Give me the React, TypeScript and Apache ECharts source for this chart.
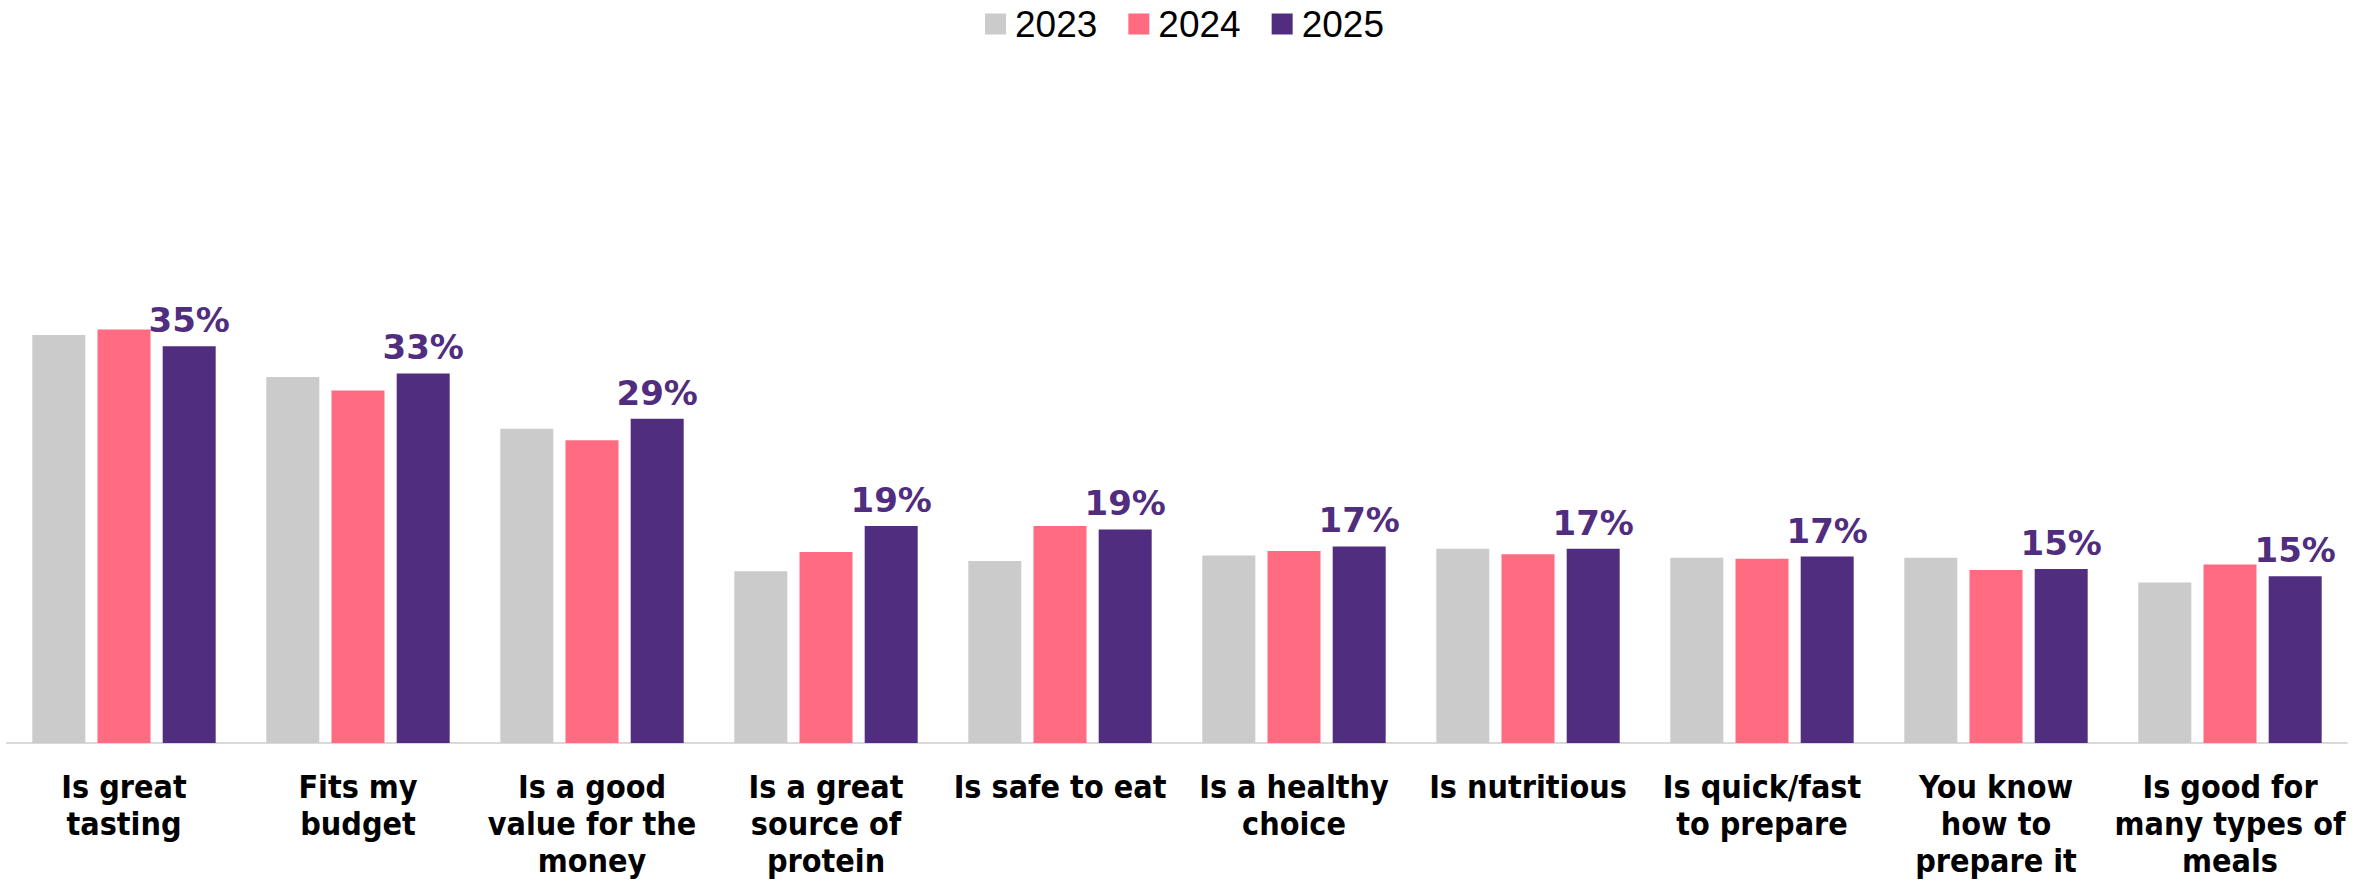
import React, { useEffect, useRef } from "react";
import * as echarts from "echarts";

const categories = [
  "Is great\ntasting",
  "Fits my\nbudget",
  "Is a good\nvalue for the\nmoney",
  "Is a great\nsource of\nprotein",
  "Is safe to eat",
  "Is a healthy\nchoice",
  "Is nutritious",
  "Is quick/fast\nto prepare",
  "You know\nhow to\nprepare it",
  "Is good for\nmany types of\nmeals",
];

const seriesNames = ["2023", "2024", "2025"];
const values2023 = [36.1, 32.4, 27.8, 15.2, 16.1, 16.6, 17.2, 16.4, 16.4, 14.2];
const values2024 = [36.6, 31.2, 26.8, 16.9, 19.2, 17.0, 16.7, 16.3, 15.3, 15.8];
const values2025 = [35.1, 32.7, 28.7, 19.2, 18.9, 17.4, 17.2, 16.5, 15.4, 14.75];

const colors = ["#CBCBCB", "#FF6B80", "#502D7F"];

export default function App() {
  const ref = useRef<HTMLDivElement>(null);

  useEffect(() => {
    if (!ref.current) return;
    const chart = echarts.init(ref.current, null, { renderer: "svg" });
    const labelFont = "'DejaVu Sans Condensed', 'Liberation Sans Narrow', 'Arial Narrow', 'Liberation Sans', sans-serif";
    const mk = (name: string, data: number[], color: string, withLabel: boolean) => ({
      name,
      type: "bar",
      data,
      barWidth: 53,
      barGap: "23%",
      itemStyle: { color },
      label: withLabel
        ? {
            show: true,
            position: "top",
            distance: 9,
            color: "#502D7F",
            fontFamily: "'DejaVu Sans', sans-serif",
            fontWeight: "bold",
            fontSize: 34,
            formatter: (p: any) => Math.round(p.value) + "%",
          }
        : { show: false },
    });
    chart.setOption({
      animation: false,
      backgroundColor: "#ffffff",
      color: colors,
      legend: {
        top: 0,
        left: "center",
        itemWidth: 21,
        itemHeight: 21,
        itemGap: 31,
        icon: "rect",
        data: seriesNames,
        textStyle: {
          fontFamily: "'Liberation Sans', sans-serif",
          fontSize: 37,
          lineHeight: 38,
          color: "#000000",
          padding: [0, 0, 0, 4],
        },
      },
      grid: {
        left: 7,
        right: 22,
        top: 65,
        bottom: 138,
        containLabel: false,
      },
      xAxis: {
        type: "category",
        data: categories,
        axisLine: { show: true, lineStyle: { color: "#D9D9D9", width: 2 } },
        axisTick: { show: false },
        axisLabel: {
          interval: 0,
          margin: 25,
          color: "#000000",
          fontFamily: labelFont,
          fontWeight: "bold",
          fontSize: 32,
          lineHeight: 37,
        },
      },
      yAxis: {
        type: "value",
        min: 0,
        max: 60,
        show: false,
        splitLine: { show: false },
      },
      series: [
        mk(seriesNames[0], values2023, colors[0], false),
        mk(seriesNames[1], values2024, colors[1], false),
        mk(seriesNames[2], values2025, colors[2], true),
      ],
    });
    return () => chart.dispose();
  }, []);

  return (
    <div
      ref={ref}
      style={{ position: "fixed", left: 0, top: 0, width: 2369, height: 881 }}
    />
  );
}
